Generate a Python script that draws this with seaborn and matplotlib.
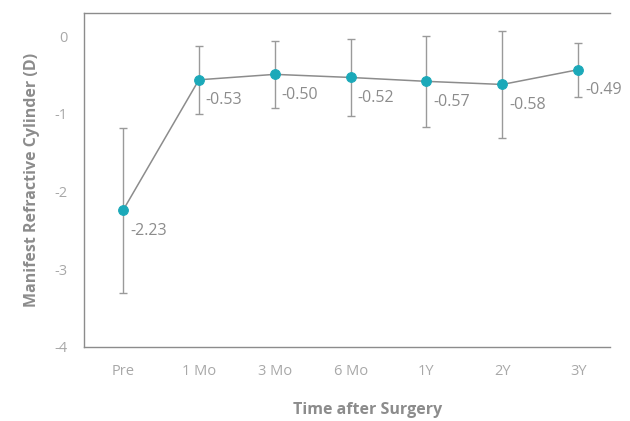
import matplotlib
matplotlib.use("Agg")
import matplotlib.pyplot as plt
import seaborn as sns
import pandas as pd

# data
timepoints = ["Pre", "1 Mo", "3 Mo", "6 Mo", "1Y", "2Y", "3Y"]
mean_cyl = [-2.24, -0.56, -0.49, -0.53, -0.58, -0.62, -0.43]
sd_cyl = [1.06, 0.44, 0.43, 0.49, 0.59, 0.69, 0.35]
value_labels = ["-2.23", "-0.53", "-0.50", "-0.52", "-0.57", "-0.58", "-0.49"]
y_ticks = [0, -1, -2, -3, -4]

df = pd.DataFrame({"time": timepoints, "cyl": mean_cyl, "sd": sd_cyl})

sns.set_style("white")
plt.rcParams["font.family"] = ["Open Sans", "DejaVu Sans"]

teal = "#1ba9b9"
grey = "#8c8c8c"
light = "#a8a8a8"

fig = plt.figure(figsize=(6.3, 4.21), dpi=100)
ax = fig.add_axes([84 / 630, 74 / 421, 526 / 630, 334 / 421])

xs = list(range(len(timepoints)))
ax.errorbar(xs, df["cyl"], yerr=df["sd"], fmt="none", ecolor="#9a9a9a",
            elinewidth=1, capsize=3, capthick=1, zorder=1)
sns.lineplot(x=xs, y=df["cyl"], ax=ax, color=grey, linewidth=1.1,
             marker="o", markersize=7, markerfacecolor=teal,
             markeredgecolor=teal, zorder=3)

for x, y, lab in zip(xs, df["cyl"], value_labels):
    ax.annotate(lab, (x, y), xytext=(5, -9), textcoords="offset points",
                ha="left", va="top", fontsize=11.5, color=grey)

ax.set_xlim(-0.515, 6.42)
ax.set_ylim(-4, 0.3)
ax.set_xticks(xs)
ax.set_xticklabels(timepoints)
ax.set_yticks(y_ticks)
ax.set_yticklabels([str(t) for t in y_ticks])

ax.tick_params(axis="both", direction="in", length=8, width=1, color=grey,
               labelcolor=light, labelsize=10.5, pad=12)

for side in ["left", "bottom", "top"]:
    ax.spines[side].set_color(grey)
    ax.spines[side].set_linewidth(1)
ax.spines["right"].set_visible(False)

ax.set_xlabel("Time after Surgery", fontsize=11.5, fontweight="bold", color=grey)
ax.set_ylabel("Manifest Refractive Cylinder (D)", fontsize=11.5,
              fontweight="bold", color=grey)
ax.xaxis.set_label_coords(0.54, -0.165)
ax.yaxis.set_label_coords(-0.084, 0.5)

fig.savefig("out.png", dpi=100)
